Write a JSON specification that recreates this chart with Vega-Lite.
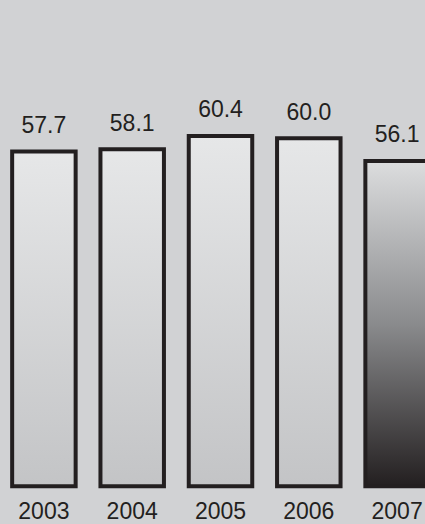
{
  "$schema": "https://vega.github.io/schema/vega-lite/v6.json",
  "width": 425,
  "height": 524,
  "autosize": "none",
  "padding": 0,
  "background": "#d1d2d4",
  "config": {"view": {"stroke": null}},
  "data": {"values": [
    {"year": "2003", "value": 57.7},
    {"year": "2004", "value": 58.1},
    {"year": "2005", "value": 60.4},
    {"year": "2006", "value": 60.0},
    {"year": "2007", "value": 56.1}
  ]},
  "encoding": {
    "x": {"field": "year", "type": "nominal", "axis": null,
      "scale": {"type": "band", "range": [-0.25, 441.25], "paddingInner": 0.281, "paddingOuter": 0.1405}}
  },
  "layer": [
    {
      "mark": {"type": "bar", "stroke": "#231f20", "strokeWidth": 4},
      "encoding": {
        "y": {"field": "value", "type": "quantitative", "axis": null,
          "scale": {"domain": [0, 83.84], "range": [486.3, 0], "nice": false, "zero": true}},
        "fill": {
          "condition": {"test": "datum.year == '2007'", "value": {"gradient": "linear", "x1": 0, "y1": 0, "x2": 0, "y2": 1,
            "stops": [{"offset": 0, "color": "#dcddde"}, {"offset": 0.5, "color": "#8a8b8d"}, {"offset": 1, "color": "#231f20"}]}},
          "value": {"gradient": "linear", "x1": 0, "y1": 0, "x2": 0, "y2": 1,
            "stops": [{"offset": 0, "color": "#e6e7e8"}, {"offset": 1, "color": "#c3c4c6"}]}
        }
      }
    },
    {
      "mark": {"type": "text", "font": "Liberation Sans", "fontSize": 23, "color": "#231f20", "baseline": "alphabetic", "align": "center", "dy": -18.5},
      "encoding": {
        "y": {"field": "value", "type": "quantitative"},
        "text": {"field": "value", "type": "quantitative", "format": ".1f"}
      }
    },
    {
      "mark": {"type": "text", "font": "Liberation Sans", "fontSize": 23, "color": "#231f20", "baseline": "alphabetic", "align": "center", "dy": 32.7},
      "encoding": {
        "y": {"datum": 0, "type": "quantitative"},
        "text": {"field": "year", "type": "nominal"}
      }
    }
  ]
}
